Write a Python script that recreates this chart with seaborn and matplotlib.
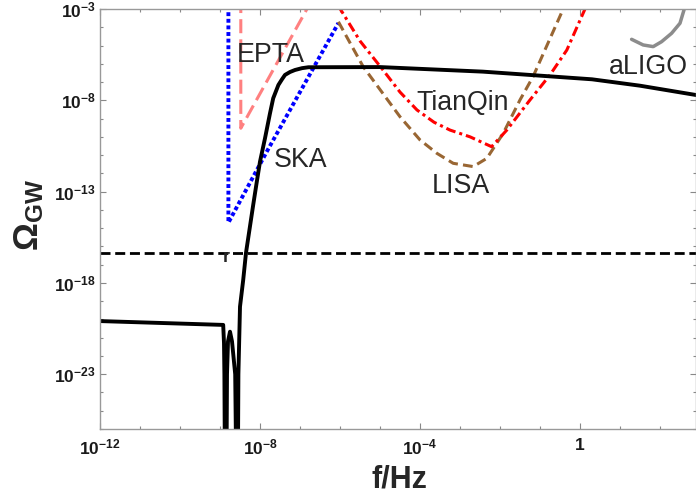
import matplotlib
matplotlib.use("Agg")
import matplotlib.pyplot as plt
import numpy as np
import pandas as pd
import seaborn as sns
from matplotlib.ticker import FixedFormatter, FixedLocator, NullFormatter

# values, as log10(f/Hz) and log10(Omega_GW)
signal_logf = [-12.0, -8.92, -8.90, -8.89, -8.88, -8.835, -8.825, -8.80, -8.75, -8.70,
               -8.62, -8.60, -8.55, -8.54, -8.50, -8.42, -8.35, -8.17, -8.08, -8.0,
               -7.875, -7.75, -7.67, -7.54, -7.45, -7.375, -7.25, -7.125, -6.95, -6.79,
               -5.0, -2.43, 0.3, 1.5, 2.9]
signal_logomega = [-20.09, -20.3, -21.3, -23.0, -27.0, -27.0, -23.0, -21.2, -20.67, -21.2,
                   -23.0, -27.0, -27.0, -23.0, -19.3, -17.84, -16.35, -13.73, -12.46, -11.36,
                   -10.08, -8.71, -7.89, -7.16, -6.85, -6.61, -6.45, -6.34, -6.24, -6.19,
                   -6.18, -6.43, -6.85, -7.2, -7.71]

ska_logf = [-8.79, -8.79, -7.83, -6.04]
ska_logomega = [0.0, -14.7, -10.81, -3.77]

epta_logf = [-8.48, -8.48, -6.70]
epta_logomega = [0.0, -9.53, -2.5]

lisa_logf = [-6.04, -5.42, -4.5, -4.0, -3.58, -3.17, -2.67, -2.33, -1.92, -1.5,
             -1.175, -0.42, -0.3]
lisa_logomega = [-3.70, -6.16, -8.9, -10.17, -10.9, -11.45, -11.63, -11.18, -9.81, -7.98,
                 -6.71, -3.0, -2.6]

tianqin_logf = [-6.05, -5.5, -4.925, -4.5, -4.075, -3.65, -3.25, -2.75, -2.21,
                -1.83, -1.25, -0.75, -0.33, 0.125, 0.2]
tianqin_logomega = [-2.8, -4.75, -6.34, -7.55, -8.53, -9.2, -9.63, -10.0, -10.54,
                    -9.63, -7.98, -6.61, -5.25, -3.0, -2.7]

aligo_logf = [2.625, 2.5, 2.29, 2.04, 1.83, 1.58, 1.29]
aligo_logomega = [-2.87, -3.78, -4.33, -4.79, -5.06, -4.97, -4.66]

bound_logomega = -16.35

detector_names = ["EPTA", "SKA", "TianQin", "LISA", "aLIGO"]
label_logf = [-8.58, -7.66, -4.08, -3.71, 0.71]
label_logomega = [-5.89, -11.64, -8.53, -13.09, -6.56]

xtick_exps = [-12, -8, -4, 0]
xtick_labels = [r"$\mathbf{10^{-12}}$", r"$\mathbf{10^{-8}}$", r"$\mathbf{10^{-4}}$", r"$\mathbf{1}$"]
ytick_exps = [-3, -8, -13, -18, -23]
ytick_labels = [r"$\mathbf{10^{-3}}$", r"$\mathbf{10^{-8}}$", r"$\mathbf{10^{-13}}$",
                r"$\mathbf{10^{-18}}$", r"$\mathbf{10^{-23}}$"]

sns.set_style("ticks")
plt.rcParams["font.family"] = ["Liberation Sans", "DejaVu Sans"]
plt.rcParams["mathtext.fontset"] = "custom"
plt.rcParams["mathtext.rm"] = "Liberation Sans"
plt.rcParams["mathtext.it"] = "Liberation Sans:italic"
plt.rcParams["mathtext.bf"] = "Liberation Sans:bold"

fig = plt.figure(figsize=(6.96, 4.99), dpi=100)
ax = fig.add_axes([100 / 696, 70 / 499, 596 / 696, 420 / 499])
ax.set_xscale("log")
ax.set_yscale("log")


def draw(logf, logomega, **kw):
    df = pd.DataFrame({"f": 10.0 ** np.asarray(logf, dtype=float),
                       "omega": 10.0 ** np.asarray(logomega, dtype=float)})
    sns.lineplot(data=df, x="f", y="omega", sort=False, estimator=None,
                 legend=False, ax=ax, **kw)


draw(epta_logf, epta_logomega, color="#FF8080", lw=2.2, linestyle=(0, (4.6, 2.0)))
draw(ska_logf, ska_logomega, color="#0000FF", lw=2.8, linestyle=(0, (1.0, 0.7)))
draw(lisa_logf, lisa_logomega, color="#996633", lw=2.2, linestyle=(0, (3.2, 1.7)))
draw(tianqin_logf, tianqin_logomega, color="#FF0000", lw=2.2,
     linestyle=(0, (3.2, 1.3, 1.0, 1.3)))
draw(aligo_logf, aligo_logomega, color="#8C8C8C", lw=2.5)
draw([-12.0, 2.9], [bound_logomega, bound_logomega], color="black", lw=2.0,
     linestyle=(0, (3.6, 1.7)))
draw(signal_logf, signal_logomega, color="black", lw=2.8)

for name, lf, lo in zip(detector_names, label_logf, label_logomega):
    ax.text(10.0 ** lf, 10.0 ** lo, name, fontsize=19.3, ha="left", va="baseline")
ax.text(10.0 ** -8.93, 10.0 ** -16.86, "r", fontsize=13, fontweight="bold",
        ha="left", va="baseline")

ax.set_xlim(1e-12, 10.0 ** 2.9)
ax.set_ylim(1e-26, 1e-3)

ax.xaxis.set_major_locator(FixedLocator([10.0 ** e for e in xtick_exps]))
ax.xaxis.set_major_formatter(FixedFormatter(xtick_labels))
ax.xaxis.set_minor_locator(FixedLocator(10.0 ** np.arange(-12, 3)))
ax.xaxis.set_minor_formatter(NullFormatter())
ax.yaxis.set_major_locator(FixedLocator([10.0 ** e for e in ytick_exps]))
ax.yaxis.set_major_formatter(FixedFormatter(ytick_labels))
ax.yaxis.set_minor_locator(FixedLocator(10.0 ** np.arange(-26, -2)))
ax.yaxis.set_minor_formatter(NullFormatter())

ax.tick_params(which="both", direction="in", top=True, right=True,
               color="#888888", width=0.8, labelsize=12.5, labelcolor="#1a1a1a")
ax.tick_params(which="major", length=4.5)
ax.tick_params(axis="y", which="major", pad=3)
ax.tick_params(axis="x", which="major", pad=6)
ax.tick_params(which="minor", length=2.5)
for spine in ax.spines.values():
    spine.set_color("#999999")
    spine.set_linewidth(1.0)

ax.set_xlabel("f/Hz", fontsize=22, fontweight="bold")
ax.xaxis.set_label_coords(0.503, -0.085)
ax.set_ylabel(r"$\mathbf{\Omega_{GW}}$", fontsize=25)
ax.yaxis.set_label_coords(-0.09, 0.51)

fig.savefig("out.png", dpi=100)
